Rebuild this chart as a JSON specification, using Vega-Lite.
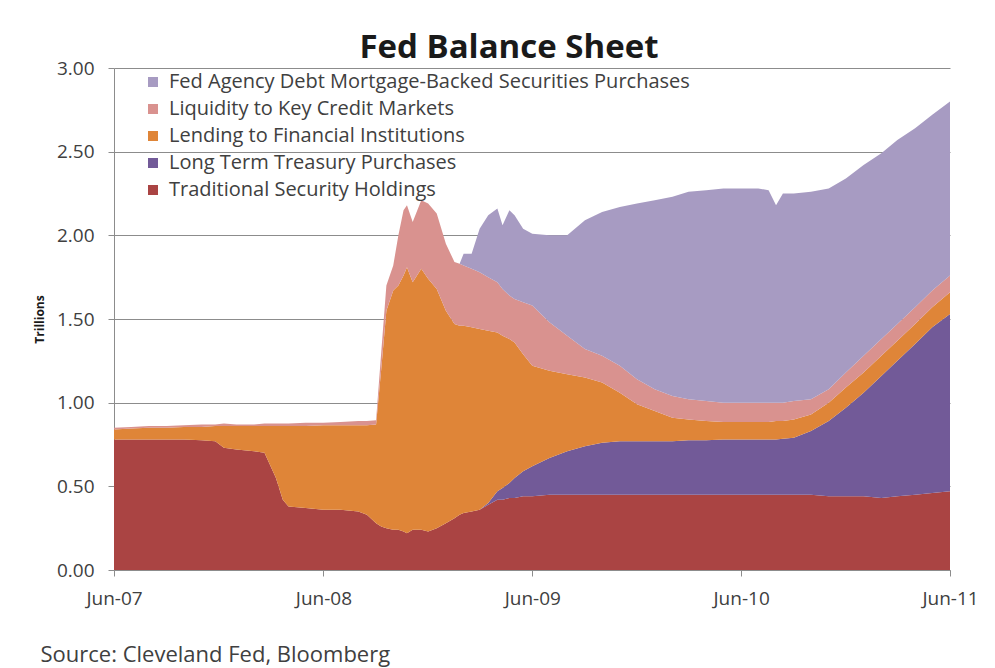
{
  "$schema": "https://vega.github.io/schema/vega-lite/v6.json",
  "width": 836,
  "height": 502,
  "autosize": {"type": "none"},
  "padding": {"left": 114, "top": 68, "right": 45, "bottom": 98},
  "background": "white",
  "title": {
    "text": "Fed Balance Sheet",
    "font": "Open Sans",
    "fontSize": 33,
    "fontWeight": "bold",
    "color": "#1a1a1a",
    "anchor": "middle",
    "dx": -23,
    "offset": -6
  },
  "config": {
    "view": {"stroke": null},
    "font": "Open Sans"
  },
  "data": {
    "values": [
      {"d":"2007-06-01","s":"e","v":0.78},{"d":"2007-06-01","s":"d","v":0},{"d":"2007-06-01","s":"c","v":0.06},{"d":"2007-06-01","s":"b","v":0.01},{"d":"2007-06-01","s":"a","v":0},
      {"d":"2007-07-01","s":"e","v":0.78},{"d":"2007-07-01","s":"d","v":0},{"d":"2007-07-01","s":"c","v":0.065},{"d":"2007-07-01","s":"b","v":0.01},{"d":"2007-07-01","s":"a","v":0},
      {"d":"2007-08-01","s":"e","v":0.78},{"d":"2007-08-01","s":"d","v":0},{"d":"2007-08-01","s":"c","v":0.07},{"d":"2007-08-01","s":"b","v":0.01},{"d":"2007-08-01","s":"a","v":0},
      {"d":"2007-09-01","s":"e","v":0.78},{"d":"2007-09-01","s":"d","v":0},{"d":"2007-09-01","s":"c","v":0.07},{"d":"2007-09-01","s":"b","v":0.01},{"d":"2007-09-01","s":"a","v":0},
      {"d":"2007-10-01","s":"e","v":0.78},{"d":"2007-10-01","s":"d","v":0},{"d":"2007-10-01","s":"c","v":0.075},{"d":"2007-10-01","s":"b","v":0.01},{"d":"2007-10-01","s":"a","v":0},
      {"d":"2007-11-01","s":"e","v":0.775},{"d":"2007-11-01","s":"d","v":0},{"d":"2007-11-01","s":"c","v":0.08},{"d":"2007-11-01","s":"b","v":0.015},{"d":"2007-11-01","s":"a","v":0},
      {"d":"2007-11-25","s":"e","v":0.77},{"d":"2007-11-25","s":"d","v":0},{"d":"2007-11-25","s":"c","v":0.09},{"d":"2007-11-25","s":"b","v":0.01},{"d":"2007-11-25","s":"a","v":0},
      {"d":"2007-12-10","s":"e","v":0.73},{"d":"2007-12-10","s":"d","v":0},{"d":"2007-12-10","s":"c","v":0.13},{"d":"2007-12-10","s":"b","v":0.015},{"d":"2007-12-10","s":"a","v":0},
      {"d":"2008-01-01","s":"e","v":0.72},{"d":"2008-01-01","s":"d","v":0},{"d":"2008-01-01","s":"c","v":0.14},{"d":"2008-01-01","s":"b","v":0.01},{"d":"2008-01-01","s":"a","v":0},
      {"d":"2008-02-01","s":"e","v":0.71},{"d":"2008-02-01","s":"d","v":0},{"d":"2008-02-01","s":"c","v":0.15},{"d":"2008-02-01","s":"b","v":0.01},{"d":"2008-02-01","s":"a","v":0},
      {"d":"2008-02-19","s":"e","v":0.70},{"d":"2008-02-19","s":"d","v":0},{"d":"2008-02-19","s":"c","v":0.16},{"d":"2008-02-19","s":"b","v":0.015},{"d":"2008-02-19","s":"a","v":0},
      {"d":"2008-03-10","s":"e","v":0.55},{"d":"2008-03-10","s":"d","v":0},{"d":"2008-03-10","s":"c","v":0.31},{"d":"2008-03-10","s":"b","v":0.015},{"d":"2008-03-10","s":"a","v":0},
      {"d":"2008-03-22","s":"e","v":0.42},{"d":"2008-03-22","s":"d","v":0},{"d":"2008-03-22","s":"c","v":0.44},{"d":"2008-03-22","s":"b","v":0.015},{"d":"2008-03-22","s":"a","v":0},
      {"d":"2008-04-01","s":"e","v":0.38},{"d":"2008-04-01","s":"d","v":0},{"d":"2008-04-01","s":"c","v":0.48},{"d":"2008-04-01","s":"b","v":0.015},{"d":"2008-04-01","s":"a","v":0},
      {"d":"2008-05-01","s":"e","v":0.37},{"d":"2008-05-01","s":"d","v":0},{"d":"2008-05-01","s":"c","v":0.49},{"d":"2008-05-01","s":"b","v":0.02},{"d":"2008-05-01","s":"a","v":0},
      {"d":"2008-06-01","s":"e","v":0.36},{"d":"2008-06-01","s":"d","v":0},{"d":"2008-06-01","s":"c","v":0.505},{"d":"2008-06-01","s":"b","v":0.015},{"d":"2008-06-01","s":"a","v":0},
      {"d":"2008-07-01","s":"e","v":0.36},{"d":"2008-07-01","s":"d","v":0},{"d":"2008-07-01","s":"c","v":0.505},{"d":"2008-07-01","s":"b","v":0.02},{"d":"2008-07-01","s":"a","v":0},
      {"d":"2008-08-01","s":"e","v":0.35},{"d":"2008-08-01","s":"d","v":0},{"d":"2008-08-01","s":"c","v":0.515},{"d":"2008-08-01","s":"b","v":0.025},{"d":"2008-08-01","s":"a","v":0},
      {"d":"2008-08-16","s":"e","v":0.33},{"d":"2008-08-16","s":"d","v":0},{"d":"2008-08-16","s":"c","v":0.535},{"d":"2008-08-16","s":"b","v":0.025},{"d":"2008-08-16","s":"a","v":0},
      {"d":"2008-09-01","s":"e","v":0.28},{"d":"2008-09-01","s":"d","v":0},{"d":"2008-09-01","s":"c","v":0.59},{"d":"2008-09-01","s":"b","v":0.025},{"d":"2008-09-01","s":"a","v":0},
      {"d":"2008-09-10","s":"e","v":0.26},{"d":"2008-09-10","s":"d","v":0},{"d":"2008-09-10","s":"c","v":0.94},{"d":"2008-09-10","s":"b","v":0.10},{"d":"2008-09-10","s":"a","v":0},
      {"d":"2008-09-19","s":"e","v":0.25},{"d":"2008-09-19","s":"d","v":0},{"d":"2008-09-19","s":"c","v":1.30},{"d":"2008-09-19","s":"b","v":0.15},{"d":"2008-09-19","s":"a","v":0},
      {"d":"2008-10-01","s":"e","v":0.24},{"d":"2008-10-01","s":"d","v":0},{"d":"2008-10-01","s":"c","v":1.43},{"d":"2008-10-01","s":"b","v":0.15},{"d":"2008-10-01","s":"a","v":0},
      {"d":"2008-10-10","s":"e","v":0.24},{"d":"2008-10-10","s":"d","v":0},{"d":"2008-10-10","s":"c","v":1.46},{"d":"2008-10-10","s":"b","v":0.30},{"d":"2008-10-10","s":"a","v":0},
      {"d":"2008-10-19","s":"e","v":0.23},{"d":"2008-10-19","s":"d","v":0},{"d":"2008-10-19","s":"c","v":1.53},{"d":"2008-10-19","s":"b","v":0.39},{"d":"2008-10-19","s":"a","v":0},
      {"d":"2008-10-25","s":"e","v":0.22},{"d":"2008-10-25","s":"d","v":0},{"d":"2008-10-25","s":"c","v":1.59},{"d":"2008-10-25","s":"b","v":0.37},{"d":"2008-10-25","s":"a","v":0},
      {"d":"2008-11-04","s":"e","v":0.24},{"d":"2008-11-04","s":"d","v":0},{"d":"2008-11-04","s":"c","v":1.48},{"d":"2008-11-04","s":"b","v":0.36},{"d":"2008-11-04","s":"a","v":0},
      {"d":"2008-11-19","s":"e","v":0.24},{"d":"2008-11-19","s":"d","v":0},{"d":"2008-11-19","s":"c","v":1.56},{"d":"2008-11-19","s":"b","v":0.41},{"d":"2008-11-19","s":"a","v":0},
      {"d":"2008-12-01","s":"e","v":0.23},{"d":"2008-12-01","s":"d","v":0},{"d":"2008-12-01","s":"c","v":1.51},{"d":"2008-12-01","s":"b","v":0.45},{"d":"2008-12-01","s":"a","v":0},
      {"d":"2008-12-16","s":"e","v":0.25},{"d":"2008-12-16","s":"d","v":0},{"d":"2008-12-16","s":"c","v":1.43},{"d":"2008-12-16","s":"b","v":0.45},{"d":"2008-12-16","s":"a","v":0},
      {"d":"2009-01-01","s":"e","v":0.28},{"d":"2009-01-01","s":"d","v":0},{"d":"2009-01-01","s":"c","v":1.27},{"d":"2009-01-01","s":"b","v":0.40},{"d":"2009-01-01","s":"a","v":0},
      {"d":"2009-01-16","s":"e","v":0.31},{"d":"2009-01-16","s":"d","v":0},{"d":"2009-01-16","s":"c","v":1.16},{"d":"2009-01-16","s":"b","v":0.37},{"d":"2009-01-16","s":"a","v":0},
      {"d":"2009-01-25","s":"e","v":0.33},{"d":"2009-01-25","s":"d","v":0},{"d":"2009-01-25","s":"c","v":1.13},{"d":"2009-01-25","s":"b","v":0.37},{"d":"2009-01-25","s":"a","v":0},
      {"d":"2009-02-01","s":"e","v":0.34},{"d":"2009-02-01","s":"d","v":0},{"d":"2009-02-01","s":"c","v":1.12},{"d":"2009-02-01","s":"b","v":0.36},{"d":"2009-02-01","s":"a","v":0.07},
      {"d":"2009-02-15","s":"e","v":0.35},{"d":"2009-02-15","s":"d","v":0},{"d":"2009-02-15","s":"c","v":1.10},{"d":"2009-02-15","s":"b","v":0.35},{"d":"2009-02-15","s":"a","v":0.09},
      {"d":"2009-03-01","s":"e","v":0.36},{"d":"2009-03-01","s":"d","v":0},{"d":"2009-03-01","s":"c","v":1.08},{"d":"2009-03-01","s":"b","v":0.34},{"d":"2009-03-01","s":"a","v":0.26},
      {"d":"2009-03-16","s":"e","v":0.39},{"d":"2009-03-16","s":"d","v":0.01},{"d":"2009-03-16","s":"c","v":1.03},{"d":"2009-03-16","s":"b","v":0.32},{"d":"2009-03-16","s":"a","v":0.37},
      {"d":"2009-04-01","s":"e","v":0.42},{"d":"2009-04-01","s":"d","v":0.05},{"d":"2009-04-01","s":"c","v":0.95},{"d":"2009-04-01","s":"b","v":0.30},{"d":"2009-04-01","s":"a","v":0.44},
      {"d":"2009-04-10","s":"e","v":0.42},{"d":"2009-04-10","s":"d","v":0.07},{"d":"2009-04-10","s":"c","v":0.91},{"d":"2009-04-10","s":"b","v":0.28},{"d":"2009-04-10","s":"a","v":0.38},
      {"d":"2009-04-22","s":"e","v":0.43},{"d":"2009-04-22","s":"d","v":0.09},{"d":"2009-04-22","s":"c","v":0.86},{"d":"2009-04-22","s":"b","v":0.26},{"d":"2009-04-22","s":"a","v":0.51},
      {"d":"2009-05-01","s":"e","v":0.43},{"d":"2009-05-01","s":"d","v":0.12},{"d":"2009-05-01","s":"c","v":0.81},{"d":"2009-05-01","s":"b","v":0.26},{"d":"2009-05-01","s":"a","v":0.50},
      {"d":"2009-05-16","s":"e","v":0.44},{"d":"2009-05-16","s":"d","v":0.15},{"d":"2009-05-16","s":"c","v":0.70},{"d":"2009-05-16","s":"b","v":0.31},{"d":"2009-05-16","s":"a","v":0.44},
      {"d":"2009-06-01","s":"e","v":0.44},{"d":"2009-06-01","s":"d","v":0.18},{"d":"2009-06-01","s":"c","v":0.60},{"d":"2009-06-01","s":"b","v":0.36},{"d":"2009-06-01","s":"a","v":0.43},
      {"d":"2009-07-01","s":"e","v":0.45},{"d":"2009-07-01","s":"d","v":0.22},{"d":"2009-07-01","s":"c","v":0.52},{"d":"2009-07-01","s":"b","v":0.29},{"d":"2009-07-01","s":"a","v":0.52},
      {"d":"2009-08-01","s":"e","v":0.45},{"d":"2009-08-01","s":"d","v":0.26},{"d":"2009-08-01","s":"c","v":0.46},{"d":"2009-08-01","s":"b","v":0.23},{"d":"2009-08-01","s":"a","v":0.60},
      {"d":"2009-09-01","s":"e","v":0.45},{"d":"2009-09-01","s":"d","v":0.29},{"d":"2009-09-01","s":"c","v":0.41},{"d":"2009-09-01","s":"b","v":0.17},{"d":"2009-09-01","s":"a","v":0.77},
      {"d":"2009-10-01","s":"e","v":0.45},{"d":"2009-10-01","s":"d","v":0.31},{"d":"2009-10-01","s":"c","v":0.36},{"d":"2009-10-01","s":"b","v":0.16},{"d":"2009-10-01","s":"a","v":0.86},
      {"d":"2009-11-01","s":"e","v":0.45},{"d":"2009-11-01","s":"d","v":0.32},{"d":"2009-11-01","s":"c","v":0.29},{"d":"2009-11-01","s":"b","v":0.16},{"d":"2009-11-01","s":"a","v":0.95},
      {"d":"2009-12-01","s":"e","v":0.45},{"d":"2009-12-01","s":"d","v":0.32},{"d":"2009-12-01","s":"c","v":0.22},{"d":"2009-12-01","s":"b","v":0.15},{"d":"2009-12-01","s":"a","v":1.05},
      {"d":"2010-01-01","s":"e","v":0.45},{"d":"2010-01-01","s":"d","v":0.32},{"d":"2010-01-01","s":"c","v":0.18},{"d":"2010-01-01","s":"b","v":0.13},{"d":"2010-01-01","s":"a","v":1.13},
      {"d":"2010-02-01","s":"e","v":0.45},{"d":"2010-02-01","s":"d","v":0.32},{"d":"2010-02-01","s":"c","v":0.14},{"d":"2010-02-01","s":"b","v":0.13},{"d":"2010-02-01","s":"a","v":1.19},
      {"d":"2010-03-01","s":"e","v":0.45},{"d":"2010-03-01","s":"d","v":0.325},{"d":"2010-03-01","s":"c","v":0.125},{"d":"2010-03-01","s":"b","v":0.12},{"d":"2010-03-01","s":"a","v":1.24},
      {"d":"2010-04-01","s":"e","v":0.45},{"d":"2010-04-01","s":"d","v":0.325},{"d":"2010-04-01","s":"c","v":0.115},{"d":"2010-04-01","s":"b","v":0.12},{"d":"2010-04-01","s":"a","v":1.26},
      {"d":"2010-05-01","s":"e","v":0.45},{"d":"2010-05-01","s":"d","v":0.33},{"d":"2010-05-01","s":"c","v":0.105},{"d":"2010-05-01","s":"b","v":0.115},{"d":"2010-05-01","s":"a","v":1.28},
      {"d":"2010-06-01","s":"e","v":0.45},{"d":"2010-06-01","s":"d","v":0.33},{"d":"2010-06-01","s":"c","v":0.105},{"d":"2010-06-01","s":"b","v":0.115},{"d":"2010-06-01","s":"a","v":1.28},
      {"d":"2010-07-01","s":"e","v":0.45},{"d":"2010-07-01","s":"d","v":0.33},{"d":"2010-07-01","s":"c","v":0.105},{"d":"2010-07-01","s":"b","v":0.115},{"d":"2010-07-01","s":"a","v":1.28},
      {"d":"2010-07-19","s":"e","v":0.45},{"d":"2010-07-19","s":"d","v":0.33},{"d":"2010-07-19","s":"c","v":0.105},{"d":"2010-07-19","s":"b","v":0.115},{"d":"2010-07-19","s":"a","v":1.27},
      {"d":"2010-08-01","s":"e","v":0.45},{"d":"2010-08-01","s":"d","v":0.33},{"d":"2010-08-01","s":"c","v":0.11},{"d":"2010-08-01","s":"b","v":0.11},{"d":"2010-08-01","s":"a","v":1.18},
      {"d":"2010-08-13","s":"e","v":0.45},{"d":"2010-08-13","s":"d","v":0.335},{"d":"2010-08-13","s":"c","v":0.105},{"d":"2010-08-13","s":"b","v":0.11},{"d":"2010-08-13","s":"a","v":1.25},
      {"d":"2010-09-01","s":"e","v":0.45},{"d":"2010-09-01","s":"d","v":0.34},{"d":"2010-09-01","s":"c","v":0.11},{"d":"2010-09-01","s":"b","v":0.11},{"d":"2010-09-01","s":"a","v":1.24},
      {"d":"2010-10-01","s":"e","v":0.45},{"d":"2010-10-01","s":"d","v":0.38},{"d":"2010-10-01","s":"c","v":0.10},{"d":"2010-10-01","s":"b","v":0.09},{"d":"2010-10-01","s":"a","v":1.24},
      {"d":"2010-11-01","s":"e","v":0.44},{"d":"2010-11-01","s":"d","v":0.45},{"d":"2010-11-01","s":"c","v":0.11},{"d":"2010-11-01","s":"b","v":0.08},{"d":"2010-11-01","s":"a","v":1.20},
      {"d":"2010-12-01","s":"e","v":0.44},{"d":"2010-12-01","s":"d","v":0.53},{"d":"2010-12-01","s":"c","v":0.12},{"d":"2010-12-01","s":"b","v":0.09},{"d":"2010-12-01","s":"a","v":1.16},
      {"d":"2011-01-01","s":"e","v":0.44},{"d":"2011-01-01","s":"d","v":0.62},{"d":"2011-01-01","s":"c","v":0.12},{"d":"2011-01-01","s":"b","v":0.10},{"d":"2011-01-01","s":"a","v":1.14},
      {"d":"2011-02-01","s":"e","v":0.43},{"d":"2011-02-01","s":"d","v":0.73},{"d":"2011-02-01","s":"c","v":0.12},{"d":"2011-02-01","s":"b","v":0.10},{"d":"2011-02-01","s":"a","v":1.11},
      {"d":"2011-03-01","s":"e","v":0.44},{"d":"2011-03-01","s":"d","v":0.81},{"d":"2011-03-01","s":"c","v":0.12},{"d":"2011-03-01","s":"b","v":0.10},{"d":"2011-03-01","s":"a","v":1.10},
      {"d":"2011-04-01","s":"e","v":0.45},{"d":"2011-04-01","s":"d","v":0.90},{"d":"2011-04-01","s":"c","v":0.12},{"d":"2011-04-01","s":"b","v":0.10},{"d":"2011-04-01","s":"a","v":1.07},
      {"d":"2011-05-01","s":"e","v":0.46},{"d":"2011-05-01","s":"d","v":0.99},{"d":"2011-05-01","s":"c","v":0.12},{"d":"2011-05-01","s":"b","v":0.10},{"d":"2011-05-01","s":"a","v":1.05},
      {"d":"2011-06-01","s":"e","v":0.47},{"d":"2011-06-01","s":"d","v":1.06},{"d":"2011-06-01","s":"c","v":0.13},{"d":"2011-06-01","s":"b","v":0.10},{"d":"2011-06-01","s":"a","v":1.04}
    ]
  },
  "mark": {"type": "area", "interpolate": "linear", "opacity": 1},
  "encoding": {
    "x": {
      "field": "d",
      "type": "temporal",
      "scale": {
        "type": "utc",
        "domain": [
          {"year": 2007, "month": 6, "date": 1, "utc": true},
          {"year": 2011, "month": 6, "date": 1, "utc": true}
        ]
      },
      "axis": {
        "values": [
          {"year": 2007, "month": 6, "date": 1, "utc": true},
          {"year": 2008, "month": 6, "date": 1, "utc": true},
          {"year": 2009, "month": 6, "date": 1, "utc": true},
          {"year": 2010, "month": 6, "date": 1, "utc": true},
          {"year": 2011, "month": 6, "date": 1, "utc": true}
        ],
        "format": "%b-%y",
        "grid": false,
        "domainColor": "#8c8c8c",
        "tickColor": "#8c8c8c",
        "tickSize": 6,
        "labelFont": "Open Sans",
        "labelFontSize": 19,
        "labelColor": "#404040",
        "labelPadding": 13,
        "labelFlush": false,
        "title": "Source: Cleveland Fed, Bloomberg",
        "titleFont": "Open Sans",
        "titleFontSize": 22,
        "titleFontWeight": "normal",
        "titleColor": "#404040",
        "titleAnchor": "start",
        "titleAlign": "left",
        "titleBaseline": "alphabetic",
        "titleX": -74,
        "titleY": 91
      }
    },
    "y": {
      "field": "v",
      "type": "quantitative",
      "stack": "zero",
      "scale": {"domain": [0, 3], "nice": false},
      "axis": {
        "values": [0, 0.5, 1, 1.5, 2, 2.5, 3],
        "format": ".2f",
        "grid": true,
        "gridColor": "#8c8c8c",
        "gridWidth": 1,
        "domainColor": "#8c8c8c",
        "tickColor": "#8c8c8c",
        "tickSize": 6,
        "labelFont": "Open Sans",
        "labelFontSize": 19,
        "labelColor": "#404040",
        "labelPadding": 14,
        "title": "Trillions",
        "titleFont": "Open Sans",
        "titleFontSize": 12,
        "titleFontWeight": "bold",
        "titleColor": "#1a1a1a",
        "titlePadding": 10
      }
    },
    "color": {
      "field": "s",
      "type": "nominal",
      "scale": {
        "domain": ["a", "b", "c", "d", "e"],
        "range": ["#A79BC2", "#D9928F", "#DF8538", "#725A98", "#AA4443"]
      },
      "legend": {
        "orient": "none",
        "legendX": 29,
        "legendY": 4,
        "title": null,
        "symbolType": "square",
        "symbolSize": 100,
        "symbolStrokeWidth": 0,
        "symbolOpacity": 1,
        "labelFont": "Open Sans",
        "labelFontSize": 20,
        "labelColor": "#404040",
        "labelOffset": 6,
        "rowPadding": 7,
        "padding": 0,
        "labelLimit": 700,
        "labelExpr": "{'a':'Fed Agency Debt Mortgage-Backed Securities Purchases','b':'Liquidity to Key Credit Markets','c':'Lending to Financial Institutions','d':'Long Term Treasury Purchases','e':'Traditional Security Holdings'}[datum.label]"
      }
    },
    "order": {"field": "s", "sort": "descending"}
  }
}
